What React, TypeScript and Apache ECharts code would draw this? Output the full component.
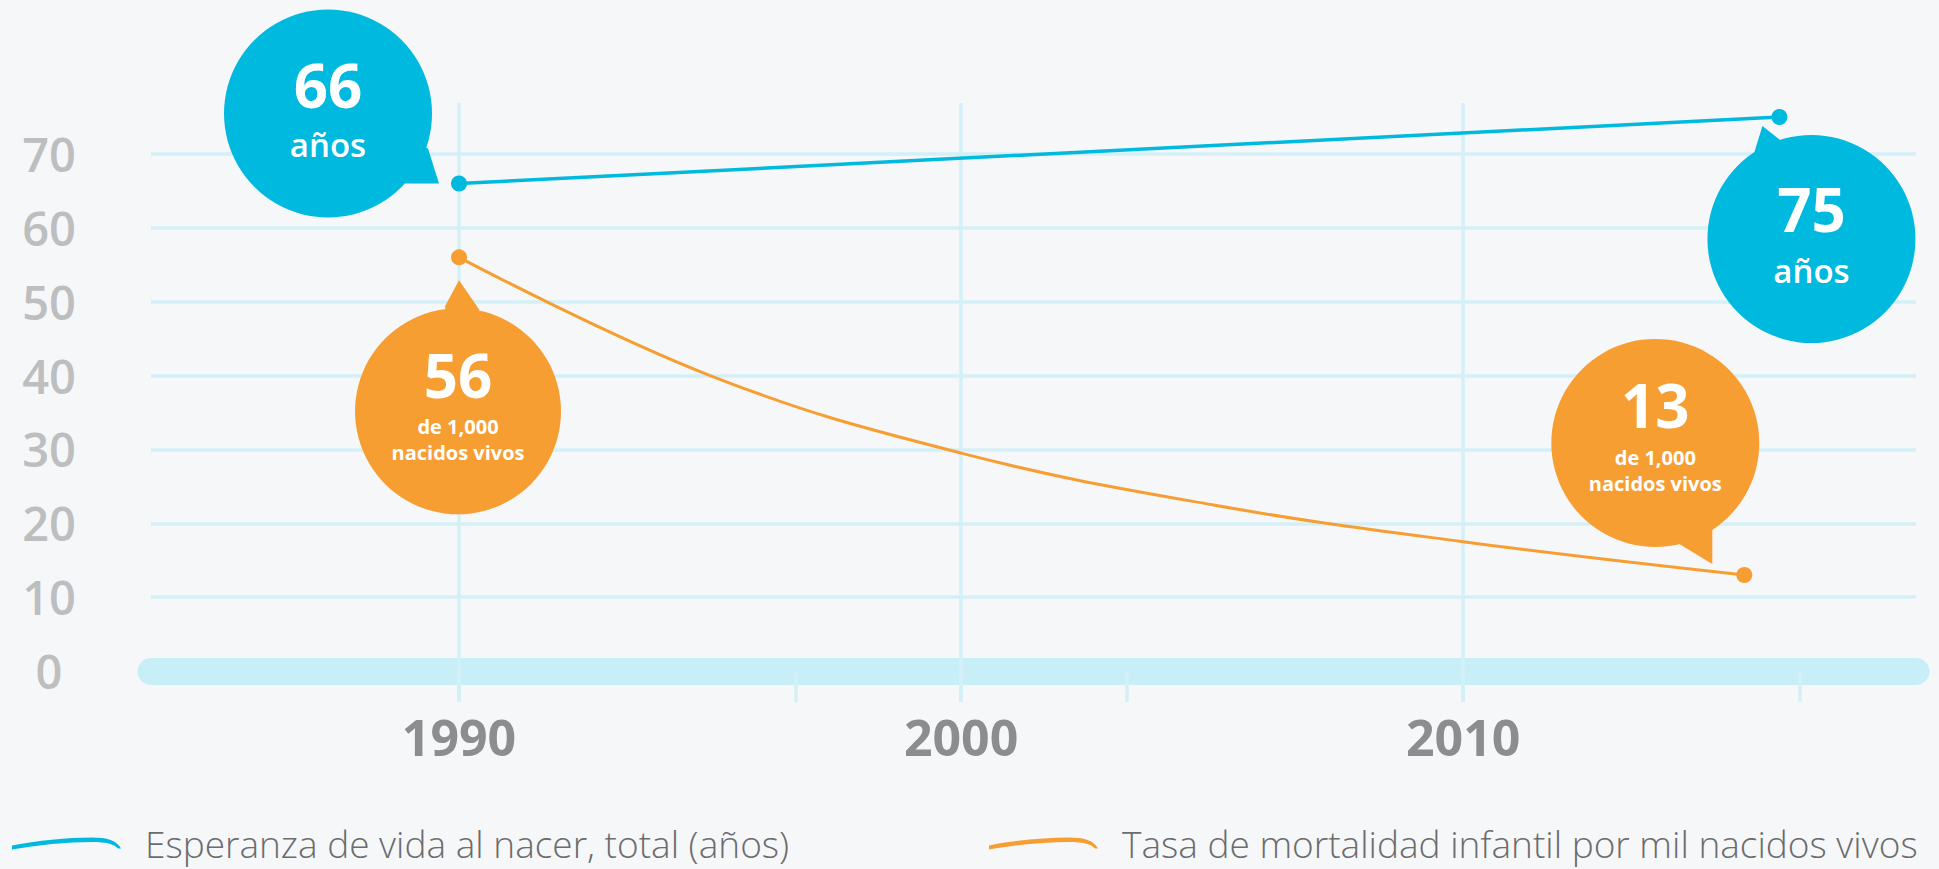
import React, { useEffect, useRef } from "react";
import * as echarts from "echarts";

// ---- data ----
const lifeName = "Esperanza de vida al nacer, total (años)";
const mortName = "Tasa de mortalidad infantil por mil nacidos vivos";
const lifeYears = [1990, 2016.3];
const lifeValues = [66, 75];
const mortYears = [1990, 1995, 2000, 2005, 2010, 2015.6];
const mortValues = [56, 40, 29.5, 22.5, 17.5, 13];
const xLabelYears = [1990, 2000, 2010];
const xTickYears = [1990, 1996.7, 2000, 2003.3, 2010, 2016.7];
const gridYears = [1990, 2000, 2010];
const yLabelValues = [0, 10, 20, 30, 40, 50, 60, 70];
const gridValues = [10, 20, 30, 40, 50, 60, 70];
const lifeUnit = ["años"];
const mortUnit = ["de 1,000", "nacidos vivos"];

// ---- style ----
const BLUE = "#00b9de";
const ORANGE = "#f79e33";
const GRID = "#d3f0f7";
const BAR = "#c8eff7";
const BG = "#f6f7f9";
const FONT = "'Open Sans', 'Noto Sans', sans-serif";
const SWOOSH =
  "path://M0,9 C25,4 55,1 80,1 C95,1 105,4 109,12 L106,12 C102,7.5 94,5.5 80,5.5 C55,5.5 25,8.5 0,13 Z";

type Bubble = {
  series: "life" | "mort";
  index: number;
  color: string;
  body: [number, number];
  r: number;
  tip: [number, number];
  b1: [number, number];
  b2: [number, number];
  numDy: number;
  unitDy: number[];
  unitSize: number;
  unitWeight: string | number;
};

const bubbles: Bubble[] = [
  { series: "life", index: 0, color: BLUE, body: [-131, -70], r: 104, tip: [-20, 0], b1: [-54, 0], b2: [-31, -35], numDy: -29, unitDy: [31], unitSize: 33, unitWeight: 600 },
  { series: "life", index: 1, color: BLUE, body: [32, 122], r: 104, tip: [-17, 9], b1: [-25, 35], b2: [2, 24], numDy: -30, unitDy: [31], unitSize: 33, unitWeight: 600 },
  { series: "mort", index: 0, color: ORANGE, body: [-1, 154], r: 103, tip: [0, 23], b1: [-14, 49], b2: [20, 52], numDy: -36, unitDy: [15, 41], unitSize: 20, unitWeight: "bold" },
  { series: "mort", index: mortYears.length - 1, color: ORANGE, body: [-89, -132], r: 104, tip: [-32, -11], b1: [-32, -46], b2: [-65, -31], numDy: -38, unitDy: [15, 41], unitSize: 20, unitWeight: "bold" },
];

export default function App() {
  const ref = useRef<HTMLDivElement>(null);
  useEffect(() => {
    if (!ref.current) return;
    const chart = echarts.init(ref.current, undefined, { renderer: "svg" });

    const lifeData = lifeYears.map((y, i) => [y, lifeValues[i]]);
    const mortData = mortYears.map((y, i) => {
      const edge = i === 0 || i === mortYears.length - 1;
      return edge ? { value: [y, mortValues[i]] } : { value: [y, mortValues[i]], symbol: "none" };
    });

    const legendText = { fontSize: 37, lineHeight: 37, color: "#6b6c6e", fontFamily: FONT, fontWeight: 300 as any, padding: [0, 0, 0, 19] };

    chart.setOption({
      animation: false,
      backgroundColor: BG,
      grid: { left: 151, right: 23, top: 103, bottom: 167, containLabel: false },
      xAxis: {
        type: "value",
        min: 1983.865,
        max: 2019.02,
        axisLine: { show: true, onZero: true, lineStyle: { color: BAR, width: 27, cap: "round" } },
        axisTick: { show: true, customValues: xTickYears, length: 31, lineStyle: { color: GRID, width: 3.5 } },
        axisLabel: {
          customValues: xLabelYears,
          formatter: (v: number) => String(Math.round(v)),
          fontSize: 50,
          fontWeight: "bold",
          color: "#8b8d8f",
          fontFamily: FONT,
          margin: 10,
        },
        splitLine: { show: false },
      },
      yAxis: {
        type: "value",
        min: -4.2,
        max: 76.9,
        axisLine: { show: false },
        axisTick: { show: false },
        splitLine: { show: false },
        axisLabel: {
          customValues: yLabelValues,
          fontSize: 47,
          fontWeight: 600,
          color: "#bdbebf",
          fontFamily: FONT,
          align: "center",
          margin: 102,
          padding: [10, 0, 0, 0],
        },
      },
      legend: [
        { data: [{ name: lifeName, icon: SWOOSH }], left: 12, top: 825, padding: 0, itemWidth: 109, itemHeight: 13, textStyle: legendText, selectedMode: false },
        { data: [{ name: mortName, icon: SWOOSH }], left: 989, top: 825, padding: 0, itemWidth: 109, itemHeight: 13, textStyle: legendText, selectedMode: false },
      ],
      series: [
        {
          type: "line",
          name: "grid",
          data: [],
          silent: true,
          z: 1,
          markLine: {
            silent: true,
            z: 1,
            symbol: ["none", "none"],
            label: { show: false },
            lineStyle: { color: GRID, width: 3.5, type: "solid" },
            emphasis: { disabled: true },
            data: [...gridYears.map((x) => ({ xAxis: x })), ...gridValues.map((v) => ({ yAxis: v }))],
          },
        },
        {
          type: "line",
          name: lifeName,
          data: lifeData,
          z: 5,
          symbol: "circle",
          symbolSize: 16,
          showSymbol: true,
          lineStyle: { color: BLUE, width: 3.5 },
          itemStyle: { color: BLUE },
          emphasis: { disabled: true },
        },
        {
          type: "line",
          name: mortName,
          data: mortData,
          z: 5,
          smooth: 0.4,
          symbol: "circle",
          symbolSize: 16,
          showSymbol: true,
          lineStyle: { color: ORANGE, width: 3 },
          itemStyle: { color: ORANGE },
          emphasis: { disabled: true },
        },
      ],
    });

    const graphics: any[] = [];
    bubbles.forEach((b) => {
      const xs = b.series === "life" ? lifeYears : mortYears;
      const vs = b.series === "life" ? lifeValues : mortValues;
      const p = chart.convertToPixel({ gridIndex: 0 }, [xs[b.index], vs[b.index]]) as number[];
      const cx = p[0] + b.body[0];
      const cy = p[1] + b.body[1];
      graphics.push({
        type: "polygon",
        z: 20,
        silent: true,
        shape: {
          points: [
            [p[0] + b.b1[0], p[1] + b.b1[1]],
            [p[0] + b.tip[0], p[1] + b.tip[1]],
            [p[0] + b.b2[0], p[1] + b.b2[1]],
            [cx, cy],
          ],
        },
        style: { fill: b.color },
      });
      graphics.push({ type: "circle", z: 20, silent: true, shape: { cx, cy, r: b.r }, style: { fill: b.color } });
      graphics.push({
        type: "text",
        z: 21,
        silent: true,
        x: cx,
        y: cy + b.numDy,
        style: { text: String(vs[b.index]), fill: "#ffffff", fontSize: 60, fontWeight: "bold", fontFamily: FONT, align: "center", verticalAlign: "middle" },
      });
      const units = b.series === "life" ? lifeUnit : mortUnit;
      units.forEach((u, k) => {
        graphics.push({
          type: "text",
          z: 21,
          silent: true,
          x: cx,
          y: cy + b.unitDy[k],
          style: { text: u, fill: "#ffffff", fontSize: b.unitSize, fontWeight: b.unitWeight, fontFamily: FONT, align: "center", verticalAlign: "middle" },
        });
      });
    });
    chart.setOption({ graphic: graphics });

    return () => chart.dispose();
  }, []);

  return (
    <div
      ref={ref}
      style={{ position: "fixed", left: 0, top: 0, width: "1939px", height: "869px", background: BG }}
    />
  );
}
